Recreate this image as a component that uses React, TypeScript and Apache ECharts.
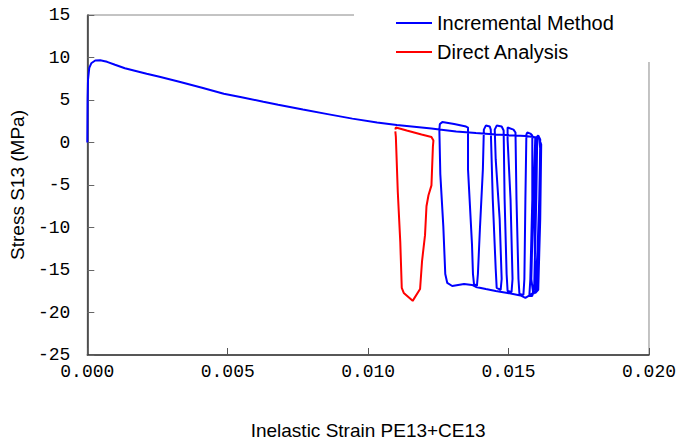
import React, { useEffect, useRef } from "react";
import * as echarts from "echarts";

// Incremental Method (blue): inelastic strain / stress (MPa)
const incStrain = [
  0, 0.00001, 0.000025, 0.00007, 0.000141, 0.000282, 0.000458, 0.000704, 0.000986, 0.001338,
  0.00169, 0.002113, 0.00257, 0.003275, 0.004085, 0.004859, 0.005493, 0.006268, 0.006796, 0.007676,
  0.008556, 0.009437, 0.010317, 0.011021, 0.011725, 0.012254, 0.012535, 0.013134, 0.013838, 0.014542,
  0.015246, 0.015599, 0.016092,
  0.016127, 0.016092, 0.016021, 0.015986,
  0.015775, 0.015599, 0.015423, 0.014965, 0.014542, 0.01419, 0.013838, 0.013697, 0.013415, 0.012993, 0.012817,
  0.012746, 0.012676, 0.01257, 0.012535, 0.012553, 0.012641,
  0.013063, 0.013486,
  0.013556, 0.013556, 0.013697, 0.013732, 0.013768,
  0.013873,
  0.013908, 0.013979, 0.014085, 0.01412, 0.01419,
  0.014331,
  0.014366, 0.014437, 0.014542, 0.014577,
  0.014718,
  0.014754, 0.014683, 0.014542, 0.014507, 0.014577,
  0.014754,
  0.014824, 0.014859, 0.01493, 0.014965,
  0.015106,
  0.015141, 0.01507, 0.014965, 0.014965,
  0.015176,
  0.015246, 0.015282, 0.015352, 0.015387,
  0.015528,
  0.015563, 0.015599, 0.015634, 0.015669,
  0.015775,
  0.015845, 0.015845, 0.015775, 0.015739,
  0.015845,
  0.015915, 0.015986, 0.016021, 0.016056,
  0.016127, 0.016092, 0.015951,
  0.01588,
  0.01581, 0.01588, 0.015951,
  0.016092,
  0.016162, 0.016127, 0.016056,
  0.015951,
  0.015915, 0.015986,
];
const incStress = [
  0, 5.04, 7.38, 8.79, 9.32, 9.65, 9.67, 9.49, 9.14, 8.73,
  8.44, 8.09, 7.73, 7.15, 6.45, 5.74, 5.33, 4.8, 4.45, 3.87,
  3.34, 2.81, 2.34, 2.05, 1.82, 1.64, 1.52, 1.29, 1.11, 0.94,
  0.82, 0.76, 0.55,
  -0.82, -6.68, -13.71, -17.46,
  -17.93, -18.28, -17.99, -17.7, -17.46, -17.23, -16.99, -16.76, -16.64, -16.88, -16.52,
  -15.47, -9.84, -3.75, 1.52, 2.17, 2.4,
  2.17, 1.88,
  1.76, -3.16, -11.95, -15.47, -16.64,
  -16.88,
  -15.47, -10.2, -3.16, 1.52, 1.99,
  1.88,
  1.52, -6.68, -14.88, -17.11,
  -17.34,
  -16.06, -9.02, -1.99, 1.52, 1.99,
  1.88,
  1.41, -6.68, -15.47, -17.46,
  -17.58,
  -16.06, -6.68, 0.35, 1.76,
  1.52,
  1.17, -6.68, -16.06, -17.81,
  -17.93,
  -16.06, -6.68, 0.94, 1.17,
  1.05,
  0.82, -6.68, -16.06, -18.05,
  -18.05,
  -16.64, -6.68, 0.7, 0.82,
  0.35, -9.02, -17.58,
  -17.81,
  -16.06, -6.68, 0.59,
  0.47,
  -0.23, -9.02, -17.34,
  -17.7,
  -6.68, 0.35,
];

// Direct Analysis (red)
const dirStrain = [
  0.010968, 0.010986, 0.011373, 0.011901, 0.012254, 0.012324, 0.012306, 0.012254, 0.012148, 0.012077,
  0.012025, 0.011919, 0.011849, 0.011585, 0.011268, 0.011197, 0.011144, 0.011056, 0.010986, 0.010968,
];
const dirStress = [
  1.52, 1.76, 1.41, 0.94, 0.64, 0.23, -0.47, -5.04, -6.21, -7.5,
  -10.9, -13.95, -17.23, -18.63, -17.7, -17.11, -11.72, -5.86, 0.7, 1.3,
];

const seriesNames = ["Incremental Method", "Direct Analysis"];
const xAxisTitle = "Inelastic Strain PE13+CE13";
const yAxisTitle = "Stress S13 (MPa)";

function pairs(xs: number[], ys: number[]) {
  return xs.map((x, i) => [x, ys[i]]);
}

export default function App() {
  const ref = useRef<HTMLDivElement>(null);
  useEffect(() => {
    if (!ref.current) return;
    const chart = echarts.init(ref.current, undefined, { renderer: "svg" });
    const axisFont = "'Liberation Mono', 'DejaVu Sans Mono', monospace";
    const sansFont = "'Liberation Sans', Arial, sans-serif";
    chart.setOption({
      animation: false,
      backgroundColor: "#ffffff",
      grid: {
        left: 87,
        right: 24,
        top: 15,
        bottom: 89,
        show: true,
        borderColor: "#888",
        borderWidth: 1,
        backgroundColor: "transparent",
      },
      legend: {
        orient: "vertical",
        left: 391,
        top: 8,
        z: 10,
        itemWidth: 36,
        itemHeight: 2,
        itemGap: 9,
        icon: "rect",
        textStyle: { fontFamily: sansFont, fontSize: 20, color: "#000" },
        data: seriesNames,
      },
      graphic: [
        {
          type: "rect",
          z: 5,
          shape: { x: 354, y: 0, width: 330, height: 62 },
          style: { fill: "#ffffff" },
        },
      ],
      xAxis: {
        type: "value",
        min: 0,
        max: 0.02,
        interval: 0.005,
        name: xAxisTitle,
        nameLocation: "middle",
        nameGap: 66,
        nameTextStyle: { fontFamily: sansFont, fontSize: 19, color: "#000" },
        axisLine: { show: true, onZero: false, lineStyle: { color: "#333", width: 1.5 } },
        axisTick: { show: true, inside: true, length: 7, lineStyle: { color: "#555" } },
        splitLine: { show: false },
        axisLabel: {
          margin: 8,
          fontFamily: axisFont,
          fontSize: 18,
          color: "#000",
          formatter: (v: number) => v.toFixed(3),
        },
      },
      yAxis: {
        type: "value",
        min: -25,
        max: 15,
        interval: 5,
        name: yAxisTitle,
        nameLocation: "middle",
        nameGap: 58,
        nameTextStyle: { fontFamily: sansFont, fontSize: 19, color: "#000" },
        axisLine: { show: true, onZero: false, lineStyle: { color: "#333", width: 1.5 } },
        axisTick: { show: true, inside: true, length: 7, lineStyle: { color: "#666" } },
        splitLine: { show: false },
        axisLabel: {
          margin: 17,
          fontFamily: axisFont,
          fontSize: 18,
          color: "#000",
        },
      },
      series: [
        {
          name: seriesNames[0],
          type: "line",
          data: pairs(incStrain, incStress),
          showSymbol: false,
          symbol: "none",
          color: "#0000ff",
          lineStyle: { color: "#0000ff", width: 2 },
          z: 3,
        },
        {
          name: seriesNames[1],
          type: "line",
          data: pairs(dirStrain, dirStress),
          showSymbol: false,
          symbol: "none",
          color: "#ff0000",
          lineStyle: { color: "#ff0000", width: 2 },
          z: 4,
        },
      ],
    });
    return () => chart.dispose();
  }, []);
  return (
    <div
      ref={ref}
      style={{ position: "fixed", left: 0, top: 0, width: 679, height: 445, background: "#fff" }}
    />
  );
}
